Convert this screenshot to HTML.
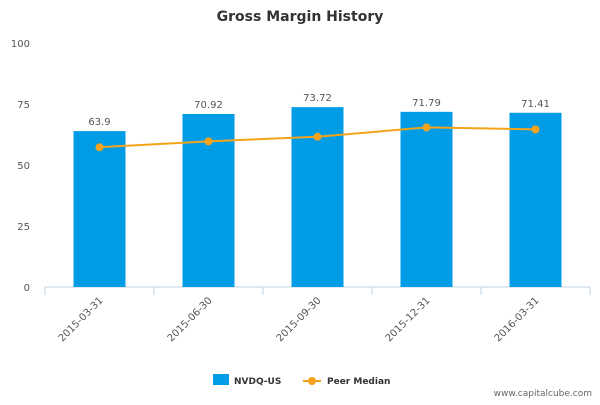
<!DOCTYPE html>
<html><head><meta charset="utf-8"><style>
body{margin:0;background:#fff;font-family:"Liberation Sans","DejaVu Sans",sans-serif}
svg text{font-family:"DejaVu Sans","Liberation Sans",sans-serif}
</style></head><body>
<svg id="c" width="600" height="400">
<text x="300" y="21" text-anchor="middle" font-size="14" font-weight="bold" fill="#333">Gross Margin History</text>
<g id="grid"></g><g id="bars"></g><g id="line"></g>
<g>
<rect x="213" y="374" width="16" height="11" fill="#009de6"/>
<text x="234" y="384" font-size="9" font-weight="bold" fill="#333">NVDQ-US</text>
<line x1="303" y1="381" x2="321" y2="381" stroke="#f5a31a" stroke-width="2"/>
<circle cx="312" cy="381" r="4" fill="#f5a31a"/>
<text x="327" y="384" font-size="9" font-weight="bold" fill="#333">Peer Median</text>
</g>
<text x="592" y="396" text-anchor="end" font-size="9" fill="#666">www.capitalcube.com</text>
</svg>
<script>
const categories=["2015-03-31","2015-06-30","2015-09-30","2015-12-31","2016-03-31"];
const companyValues=[63.9,70.92,73.72,71.79,71.41];
const peerValues=[57.3,59.7,61.6,65.4,64.6];
const yTicks=[0,25,50,75,100];
const NS="http://www.w3.org/2000/svg";
const x0=45,x1=590,y0=287,y100=43;
const step=(x1-x0)/categories.length;
const xc=i=>x0+step*(i+0.5);
const ys=v=>y0-(y0-y100)*v/100;
function mk(t,a,p){const e=document.createElementNS(NS,t);for(const k in a)e.setAttribute(k,a[k]);p.appendChild(e);return e;}
const g=document.getElementById('grid'),b=document.getElementById('bars'),l=document.getElementById('line');
yTicks.forEach(v=>{
 const t=mk('text',{x:30,y:ys(v)+4,'text-anchor':'end','font-size':10,fill:'#555'},g);t.textContent=v;
 
 
});
const ax=mk('line',{x1:x0,y1:y0,x2:x1,y2:y0,stroke:'#c0d0e0'},g);


for(let i=0;i<=categories.length;i++){mk('line',{x1:x0+step*i,y1:y0,x2:x0+step*i,y2:y0+8,stroke:'#c0d0e0'},g);}
categories.forEach((c,i)=>{
 const t=mk('text',{x:xc(i)+4,y:y0+14,'text-anchor':'end','font-size':10,fill:'#555',transform:`rotate(-45 ${xc(i)+4} ${y0+14})`},g);t.textContent=c;
 
 
});
companyValues.forEach((v,i)=>{
 const r=mk('rect',{x:xc(i)-26,y:ys(v),width:52,height:y0-ys(v),fill:'#009de6'},b);
 
 
 const t=mk('text',{x:xc(i),y:ys(v)-6,'text-anchor':'middle','font-size':10,fill:'#555'},b);t.textContent=v;
 
 
});
const p=mk('polyline',{points:peerValues.map((v,i)=>xc(i)+','+ys(v)).join(' '),fill:'none',stroke:'#f5a31a','stroke-width':2},l);


peerValues.forEach((v,i)=>{
 const c=mk('circle',{cx:xc(i),cy:ys(v),r:4,fill:'#f5a31a'},l);
 
 
});
</script>
</body></html>
